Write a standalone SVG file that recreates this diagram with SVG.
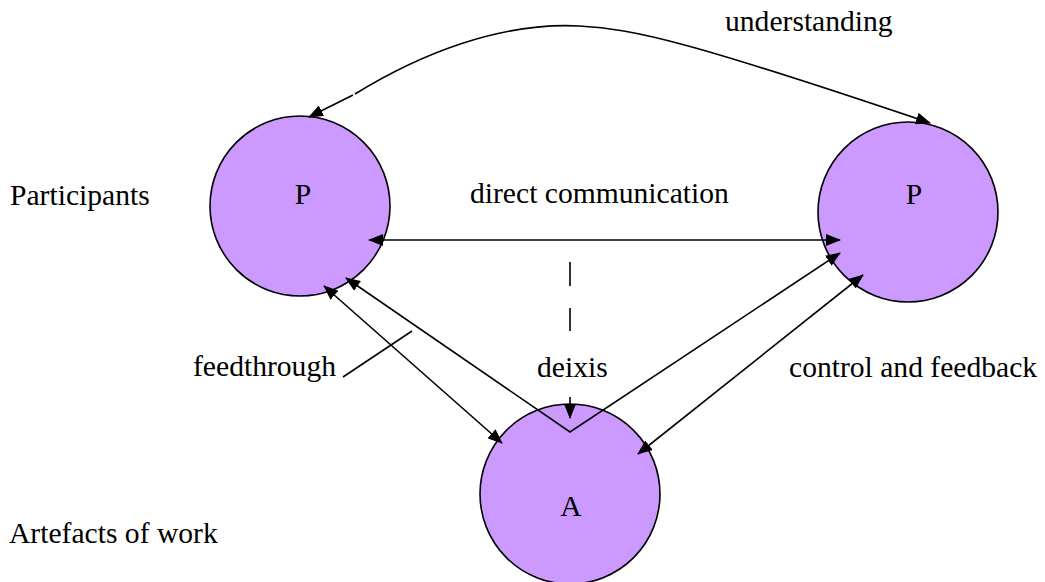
<svg xmlns="http://www.w3.org/2000/svg" width="1045" height="582" viewBox="0 0 1045 582">
  <style>
    .node { fill: #CC99FF; stroke: #000; stroke-width: 1.6; }
    .lbl { font-family: "Liberation Serif", "Times New Roman", serif; font-size: 29.6px; fill: #000; }
    .mid { text-anchor: middle; }
    .conn { fill: none; stroke: #000; stroke-width: 1.6; }
  </style>
  <defs>
    <marker id="arrow" viewBox="0 0 15 12" refX="14" refY="6" markerWidth="15" markerHeight="12" markerUnits="userSpaceOnUse" orient="auto-start-reverse">
      <path d="M0,0 L15,6 L0,12 z" fill="#000"/>
    </marker>
  </defs>

  <rect width="1045" height="582" fill="#fff"/>

  <!-- row labels -->
  <text class="lbl" x="10" y="205">Participants</text>
  <text class="lbl" x="9" y="543">Artefacts of work</text>

  <!-- nodes -->
  <g id="participant-left">
    <circle class="node" cx="300" cy="206" r="90"/>
    <text class="lbl mid" x="303" y="204">P</text>
  </g>
  <g id="participant-right">
    <circle class="node" cx="908" cy="212" r="90"/>
    <text class="lbl mid" x="914" y="204">P</text>
  </g>
  <g id="artefact">
    <circle class="node" cx="570" cy="494" r="90"/>
    <text class="lbl mid" x="571" y="516">A</text>
  </g>

  <!-- connectors -->
  <g id="connectors">
    <!-- understanding arc -->
    <path class="conn" d="M353 95 L309 117" marker-end="url(#arrow)"/>
    <path class="conn" d="M355 94 C420 54, 500 22, 579 26 C635 29, 690 42, 930 123" marker-end="url(#arrow)"/>
    <!-- direct communication -->
    <path class="conn" d="M369 240 L840 240" marker-start="url(#arrow)" marker-end="url(#arrow)"/>
    <!-- deixis (dashed) -->
    <path class="conn" d="M570 262 L570 331" stroke-dasharray="24 22"/>
    <path class="conn" d="M570 397 L570 418" marker-end="url(#arrow)"/>
    <!-- feedthrough route through the artefact -->
    <path class="conn" d="M346 278 L570 432 L840 253" marker-start="url(#arrow)" marker-end="url(#arrow)"/>
    <!-- left participant / artefact -->
    <path class="conn" d="M324 286 L502 443" marker-start="url(#arrow)" marker-end="url(#arrow)"/>
    <!-- control and feedback -->
    <path class="conn" d="M638 454 L863 275" marker-start="url(#arrow)" marker-end="url(#arrow)"/>
    <!-- feedthrough pointer -->
    <path class="conn" d="M343 377 L412 331"/>
  </g>

  <!-- connector labels -->
  <text class="lbl" x="725" y="31">understanding</text>
  <text class="lbl" x="470" y="203">direct communication</text>
  <text class="lbl" x="193" y="376">feedthrough</text>
  <text class="lbl" x="537" y="377">deixis</text>
  <text class="lbl" x="789" y="377">control and feedback</text>
</svg>
